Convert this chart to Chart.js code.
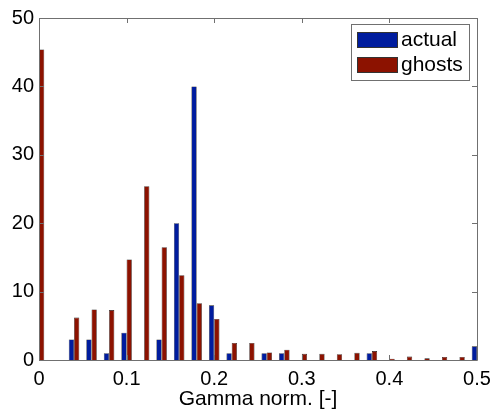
<!DOCTYPE html>
<html>
<head>
<meta charset="utf-8">
<script src="https://cdn.jsdelivr.net/npm/chart.js@4/dist/chart.umd.min.js"></script>
<style>
  html, body { margin: 0; padding: 0; background: #ffffff; }
  #wrap { width: 492px; height: 412px; }
</style>
</head>
<body>
<div id="wrap"><canvas id="c" width="492" height="412"></canvas></div>
<script>
// Histogram bin centres of the normalised gamma value
const binCentres = [0, 0.02, 0.04, 0.06, 0.08, 0.10, 0.12, 0.14, 0.16, 0.18, 0.20, 0.22, 0.24,
                    0.26, 0.28, 0.30, 0.32, 0.34, 0.36, 0.38, 0.40, 0.42, 0.44, 0.46, 0.48, 0.50];
// Counts per bin
const actualCounts = [0, 0, 3, 3, 1, 4, 0, 3, 20, 40, 8, 1, 0,
                      1, 1, 0, 0, 0, 0, 1, 0, 0, 0, 0, 0, 2];
const ghostCounts  = [45.4, 0, 6.2, 7.4, 7.3, 14.7, 25.4, 16.5, 12.4, 8.3, 6.0, 2.5, 2.5,
                      1.1, 1.5, 0.9, 0.9, 0.85, 1.05, 1.3, 0.2, 0.5, 0.25, 0.45, 0.45, 7.1];
const xTickValues = [0, 0.1, 0.2, 0.3, 0.4, 0.5];
const yTickValues = [0, 10, 20, 30, 40, 50];
const seriesNames = ['actual', 'ghosts'];

const FONT = '"Liberation Sans", Arial, sans-serif';
const AXIS = '#707070';
const BLUE = '#001c9e';
const RED = '#8c1200';

// Box around the axes with inward ticks on all four sides, plus the legend
const boxPlugin = {
  id: 'boxAxes',
  afterDatasetsDraw(chart) {
    const { ctx, chartArea: a, scales } = chart;
    ctx.save();
    ctx.strokeStyle = AXIS;
    ctx.lineWidth = 1;
    ctx.beginPath();
    ctx.rect(Math.round(a.left) + 0.5, Math.round(a.top) + 0.5,
             Math.round(a.right - a.left), Math.round(a.bottom - a.top));
    ctx.stroke();
    const t = 5;
    ctx.beginPath();
    xTickValues.forEach(v => {
      const i = binCentres.findIndex(b => Math.abs(b - v) < 1e-9);
      const x = Math.round(scales.x.getPixelForValue(i)) + 0.5;
      ctx.moveTo(x, a.top); ctx.lineTo(x, a.top + t);
      ctx.moveTo(x, a.bottom); ctx.lineTo(x, a.bottom - t);
    });
    yTickValues.forEach(v => {
      const y = Math.round(scales.y.getPixelForValue(v)) + 0.5;
      ctx.moveTo(a.left, y); ctx.lineTo(a.left + t, y);
      ctx.moveTo(a.right, y); ctx.lineTo(a.right - t, y);
    });
    ctx.stroke();

    // legend
    const lx = 351, ly = 24, lw = 118, lh = 56;
    ctx.fillStyle = '#ffffff';
    ctx.fillRect(lx, ly, lw, lh);
    ctx.strokeStyle = AXIS;
    ctx.strokeRect(lx + 0.5, ly + 0.5, lw, lh);
    ctx.font = '21px ' + FONT;
    ctx.textBaseline = 'middle';
    ctx.textAlign = 'left';
    chart.data.datasets.forEach((ds, k) => {
      const cy = ly + 15 + k * 25;
      ctx.fillStyle = ds.backgroundColor;
      ctx.fillRect(357, cy - 7, 40, 15);
      ctx.strokeStyle = '#333';
      ctx.strokeRect(357.5, cy - 6.5, 40, 15);
      ctx.fillStyle = '#000';
      ctx.fillText(ds.label, 401, cy + 1);
    });
    ctx.restore();
  }
};

new Chart(document.getElementById('c'), {
  type: 'bar',
  data: {
    labels: binCentres.map(String),
    datasets: [
      { label: seriesNames[0], data: actualCounts, backgroundColor: BLUE, borderColor: '#1a1a1a', borderWidth: 0.6 },
      { label: seriesNames[1], data: ghostCounts, backgroundColor: RED, borderColor: '#1a1a1a', borderWidth: 0.6 }
    ]
  },
  options: {
    responsive: false,
    animation: false,
    devicePixelRatio: 1,
    categoryPercentage: 0.6,
    barPercentage: 1.0,
    layout: { padding: { top: 18, right: 15, left: 0, bottom: 0 } },
    plugins: { legend: { display: false }, tooltip: { enabled: false } },
    scales: {
      x: {
        type: 'category',
        offset: false,
        grid: { display: false, drawTicks: false },
        border: { display: false },
        ticks: {
          autoSkip: false,
          maxRotation: 0,
          padding: 7,
          color: '#000',
          font: { family: FONT, size: 20 },
          callback: (v, i) => xTickValues.some(x => Math.abs(x - binCentres[i]) < 1e-9) ? String(binCentres[i]) : ''
        },
        title: {
          display: true,
          text: 'Gamma norm. [-]',
          color: '#000',
          font: { family: FONT, size: 21 },
          padding: { top: 0, bottom: 0 }
        },
        afterFit: s => { s.height = 52; s.paddingLeft = 0; s.paddingRight = 0; }
      },
      y: {
        min: 0,
        max: 50,
        grid: { display: false, drawTicks: false },
        border: { display: false },
        afterBuildTicks: s => { s.ticks = yTickValues.map(v => ({ value: v })); },
        ticks: {
          padding: 5,
          color: '#000',
          font: { family: FONT, size: 20 }
        },
        afterFit: s => { s.width = 39; s.paddingTop = 0; s.paddingBottom = 0; }
      }
    }
  },
  plugins: [boxPlugin]
});
</script>
</body>
</html>
